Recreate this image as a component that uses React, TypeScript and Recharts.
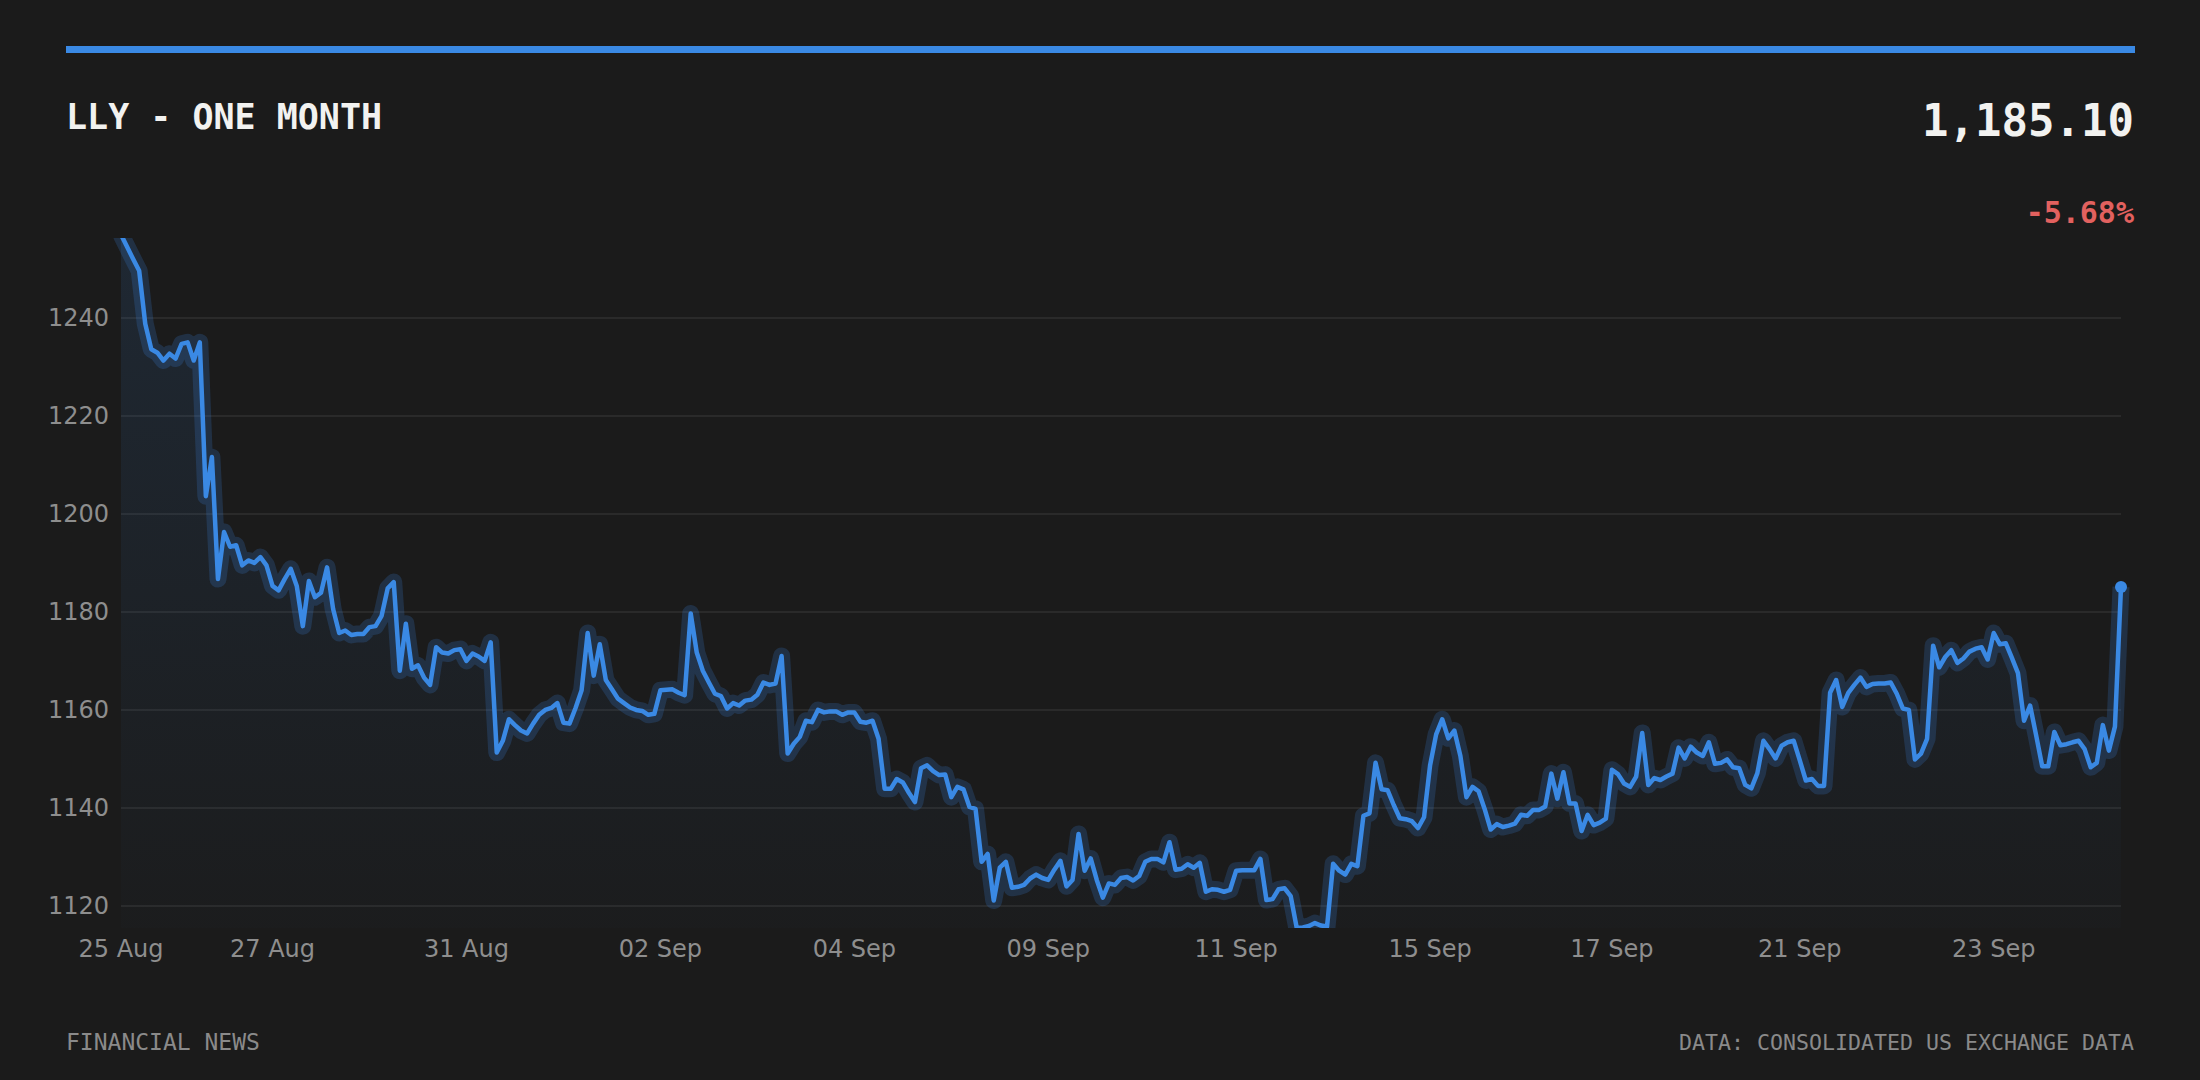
import { ComposedChart, Area, Line, XAxis, YAxis, CartesianGrid } from 'recharts';

// intraday closes (one point per bar)
const LATE_AUG = [
    1257.0, 1254.5, 1252.0, 1249.6, 1238.8, 1233.6, 1232.9, 1231.3, 1232.7, 1231.7,
    1234.7, 1235.0, 1231.3, 1235.0, 1203.6, 1211.6, 1186.7, 1196.3, 1193.3, 1193.6,
    1189.5, 1190.5, 1190.0, 1191.2, 1189.5, 1185.3, 1184.4, 1186.7, 1188.8, 1185.3,
    1177.1, 1186.3, 1183.0, 1183.9, 1189.1, 1180.6, 1175.7, 1176.2, 1175.3, 1175.5,
    1175.5, 1176.9, 1177.1, 1179.2, 1184.8, 1186.1, 1168.0, 1177.6, 1168.4, 1169.1,
    1166.6, 1165.1, 1172.8, 1171.7, 1171.5, 1172.2, 1172.4, 1170.0, 1171.5, 1170.9,
    1170.0, 1173.8, 1151.3, 1153.7, 1158.1, 1156.9, 1155.8, 1155.2, 1157.2, 1159.0,
    1160.0, 1160.4, 1161.4, 1157.4, 1157.2, 1160.4, 1164.0, 1175.7, 1167.0, 1173.4,
    1166.1, 1164.2, 1162.3,
];

const EARLY_SEP = [
    1161.4, 1160.5, 1160.0, 1159.8, 1159.0, 1159.2, 1164.0, 1164.1, 1164.2, 1163.5,
    1163.0, 1179.7, 1171.7, 1168.0, 1165.6, 1163.3, 1162.8, 1160.3, 1161.4, 1160.9,
    1161.9, 1162.1, 1163.1, 1165.6, 1165.1, 1165.4, 1171.0, 1151.1, 1153.1, 1154.5,
    1157.8, 1157.5, 1160.0, 1159.5, 1159.7, 1159.7, 1159.0, 1159.5, 1159.5, 1157.6,
    1157.4, 1157.8, 1154.1, 1143.9, 1143.9, 1145.9, 1145.2, 1143.1, 1141.2, 1148.1,
    1148.7, 1147.5, 1146.7, 1146.8, 1142.2, 1144.3, 1143.8, 1140.2, 1139.8, 1129.0,
    1130.6, 1121.1, 1127.8, 1129.0, 1123.7, 1123.9, 1124.3, 1125.6, 1126.4, 1125.7,
    1125.3, 1127.4, 1129.2, 1124.0, 1125.3, 1134.7, 1127.2, 1129.7, 1125.3, 1121.7,
    1124.6, 1124.3,
];

const MID_SEP = [
    1125.7, 1125.9, 1125.2, 1126.1, 1129.0, 1129.6, 1129.6, 1128.9, 1133.0, 1127.4,
    1127.6, 1128.5, 1127.8, 1128.8, 1122.9, 1123.4, 1123.3, 1122.9, 1123.3, 1127.2,
    1127.3, 1127.3, 1127.3, 1129.6, 1121.2, 1121.4, 1123.4, 1123.6, 1122.0, 1115.5,
    1115.6, 1115.9, 1116.5, 1116.0, 1115.8, 1128.6, 1127.2, 1126.4, 1128.6, 1128.1,
    1138.4, 1138.9, 1149.2, 1143.8, 1143.6, 1140.6, 1137.9, 1137.7, 1137.3, 1135.9,
    1138.1, 1148.7, 1155.0, 1158.1, 1154.2, 1155.8, 1150.6, 1142.2, 1144.3, 1143.4,
    1139.8, 1135.6, 1136.7, 1136.1, 1136.4, 1136.8, 1138.6, 1138.4, 1139.6, 1139.6,
    1140.3, 1147.0, 1141.9, 1147.3, 1140.9, 1140.9, 1135.3, 1138.6, 1136.5, 1137.0,
    1137.8, 1147.8, 1146.9,
];

const LATE_SEP = [
    1145.0, 1144.3, 1146.4, 1155.3, 1144.7, 1146.1, 1145.7, 1146.4, 1147.0, 1152.3,
    1150.1, 1152.5, 1151.3, 1150.6, 1153.4, 1149.0, 1149.2, 1149.9, 1148.3, 1148.1,
    1144.7, 1144.0, 1147.1, 1153.7, 1152.0, 1150.1, 1152.7, 1153.4, 1153.7, 1149.7,
    1145.6, 1145.9, 1144.5, 1144.5, 1163.5, 1166.1, 1160.6, 1163.5, 1165.1, 1166.6,
    1164.7, 1165.3, 1165.4, 1165.4, 1165.6, 1163.3, 1160.3, 1160.0, 1149.9, 1151.1,
    1154.1, 1173.1, 1168.7, 1170.8, 1172.2, 1169.6, 1170.5, 1171.9, 1172.5, 1172.8,
    1170.3, 1175.7, 1173.4, 1173.6, 1170.6, 1167.5, 1157.8, 1160.9, 1154.8, 1148.5,
    1148.5, 1155.5, 1152.8, 1153.0, 1153.4, 1153.7, 1152.0, 1148.3, 1149.2, 1156.9,
    1151.7, 1156.6, 1185.1,
];

const TICK_IDX = [0, 25, 57, 89, 121, 153, 184, 216, 246, 277, 309];
const TICK_LABELS = ['25 Aug', '27 Aug', '31 Aug', '02 Sep', '04 Sep', '09 Sep', '11 Sep', '15 Sep', '17 Sep', '21 Sep', '23 Sep'];
const Y_TICKS = [1120, 1140, 1160, 1180, 1200, 1220, 1240];

const BLUE = '#3a89e4';
const BG = '#1b1b1b';

const prices = [...LATE_AUG, ...EARLY_SEP, ...MID_SEP, ...LATE_SEP];
const data = prices.map((price, i) => ({ i, price }));
const lastIdx = data.length - 1;

const tickStyle = { fontSize: 24, fill: '#8e8e8e', fontFamily: '"DejaVu Sans", sans-serif' };

function EndDot(props: any) {
    const { cx, cy, index } = props;
    if (index !== lastIdx) return <g key={`d-${index}`} />;
    return <circle key={`d-${index}`} cx={cx} cy={cy} r={6} fill={BLUE} />;
}

export default function App() {
    return (
        <div style={{ position: 'fixed', left: 0, top: 0, width: 2200, height: 1080, background: BG, overflow: 'hidden' }}>
            <div style={{ position: 'absolute', left: 66, top: 46, width: 2069, height: 7, background: BLUE }} />
            <div style={{ position: 'absolute', left: 0, top: 0 }}>
                <ComposedChart
                    width={2200}
                    height={1080}
                    data={data}
                    margin={{ top: 238, right: 79, bottom: 122, left: 61 }}
                >
                    <defs>
                        <linearGradient id="grad-price" x1="0" y1="0" x2="0" y2="1">
                            <stop offset="0%" stopColor={BLUE} stopOpacity={0.2} />
                            <stop offset="100%" stopColor={BLUE} stopOpacity={0.02} />
                        </linearGradient>
                    </defs>
                    <CartesianGrid
                        vertical={false}
                        horizontalValues={Y_TICKS}
                        stroke="#303030"
                        strokeWidth={1.5}
                    />
                    <XAxis
                        dataKey="i"
                        type="number"
                        domain={[0, lastIdx]}
                        ticks={TICK_IDX}
                        interval={0}
                        tickFormatter={(v: number) => TICK_LABELS[TICK_IDX.indexOf(v)] ?? ''}
                        tick={tickStyle}
                        axisLine={false}
                        tickLine={false}
                        tickMargin={6}
                        height={30}
                    />
                    <YAxis
                        type="number"
                        domain={[1115.5, 1256.3]}
                        allowDataOverflow
                        ticks={Y_TICKS}
                        interval={0}
                        tick={tickStyle}
                        axisLine={false}
                        tickLine={false}
                        tickMargin={6}
                        width={60}
                    />
                    <Area
                        type="linear"
                        dataKey="price"
                        stroke="none"
                        fill="url(#grad-price)"
                        isAnimationActive={false}
                        activeDot={false}
                    />
                    <Line
                        type="linear"
                        dataKey="price"
                        stroke={BLUE}
                        strokeOpacity={0.2}
                        strokeWidth={17}
                        strokeLinejoin="round"
                        dot={false}
                        activeDot={false}
                        isAnimationActive={false}
                    />
                    <Line
                        type="linear"
                        dataKey="price"
                        stroke={BLUE}
                        strokeWidth={4.5}
                        strokeLinejoin="round"
                        dot={EndDot}
                        activeDot={false}
                        isAnimationActive={false}
                    />
                </ComposedChart>
            </div>
            <svg width={2200} height={1080} style={{ position: 'absolute', left: 0, top: 0, pointerEvents: 'none' }}>
                <text x={66} y={129} fontFamily='"DejaVu Sans Mono", monospace' fontWeight="bold" fontSize={35} fill="#f2f2f0">
                    LLY - ONE MONTH
                </text>
                <text x={2134} y={136} textAnchor="end" fontFamily='"DejaVu Sans Mono", monospace' fontWeight="bold" fontSize={44} fill="#f2f2f0">
                    1,185.10
                </text>
                <text x={2134} y={223} textAnchor="end" fontFamily='"DejaVu Sans Mono", monospace' fontWeight="bold" fontSize={30} fill="#e2615f">
                    -5.68%
                </text>
                <text x={66} y={1050} fontFamily='"DejaVu Sans Mono", monospace' fontSize={23} fill="#8a8a8a">
                    FINANCIAL NEWS
                </text>
                <text x={2134} y={1050} textAnchor="end" fontFamily='"DejaVu Sans Mono", monospace' fontSize={21.6} fill="#8a8a8a">
                    DATA: CONSOLIDATED US EXCHANGE DATA
                </text>
            </svg>
        </div>
    );
}
